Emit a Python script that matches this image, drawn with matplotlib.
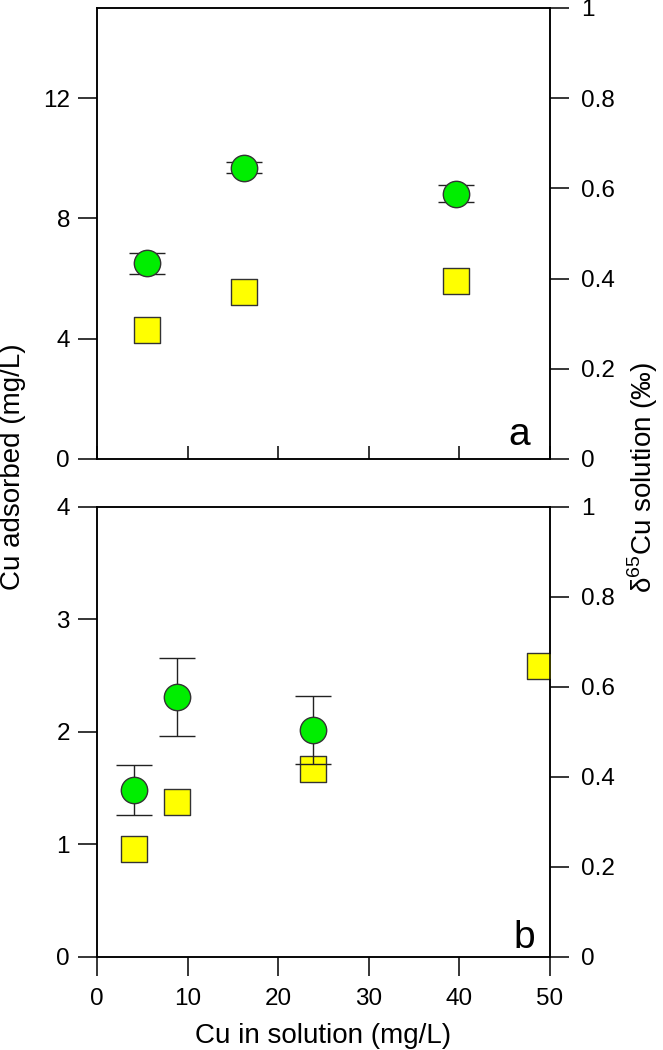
import matplotlib
matplotlib.use("Agg")
import matplotlib.pyplot as plt

plt.rcParams['font.family'] = ['Liberation Sans', 'DejaVu Sans']
plt.rcParams['mathtext.fontset'] = 'custom'
plt.rcParams['mathtext.rm'] = 'Liberation Sans'

# panel a
a_sq_x = [5.55, 16.2, 39.6]
a_sq_y = [4.29, 5.56, 5.93]
a_ci_x = [5.55, 16.2, 39.6]
a_ci_y = [0.434, 0.646, 0.588]
a_ci_err = [0.023, 0.012, 0.019]

# panel b
b_sq_x = [4.08, 8.78, 23.84, 48.9]
b_sq_y = [0.957, 1.38, 1.671, 2.587]
b_ci_x = [4.08, 8.8, 23.84]
b_ci_y = [0.371, 0.578, 0.504]
b_ci_err = [0.056, 0.087, 0.076]

x_ticks = [0, 10, 20, 30, 40, 50]
right_ticks = [0, 0.2, 0.4, 0.6, 0.8, 1]
right_labels = ["0", "0.2", "0.4", "0.6", "0.8", "1"]

FS = 17.5
LFS = 20
LW = 1.1

fig = plt.figure(figsize=(6.63, 10.5), dpi=100)
ax_a = fig.add_axes([0.1463, 0.5629, 0.6833, 0.4295])
ax_b = fig.add_axes([0.1463, 0.0886, 0.6833, 0.4286])


def style(ax, tw, xin):
    for s in ax.spines.values():
        s.set_linewidth(LW)
    ax.tick_params(axis='y', direction='out', length=13.5, width=LW, labelsize=FS, pad=6)
    if xin:
        ax.tick_params(axis='x', direction='in', length=9.5, width=LW, labelbottom=False)
    else:
        ax.tick_params(axis='x', direction='out', length=13.5, width=LW, labelsize=FS, pad=9)
    tw.tick_params(axis='y', direction='out', length=13.5, width=LW, labelsize=FS, pad=9)
    for s in tw.spines.values():
        s.set_linewidth(LW)


def draw(ax, sx, sy, cx, cy, ce, ylim, yticks, label, lx, ly, xin):
    tw = ax.twinx()
    ax.scatter(sx, sy, marker='s', s=370, c='#ffff00', edgecolors='#333333', linewidths=1, zorder=3)
    tw.errorbar(cx, cy, yerr=ce, fmt='o', ms=19, mfc='#00ee00', mec='#333333', mew=1,
                ecolor='#222222', elinewidth=1, capsize=13, capthick=1, zorder=3)
    ax.set_xlim(0, 50)
    ax.set_xticks(x_ticks)
    ax.set_ylim(*ylim)
    ax.set_yticks(yticks)
    tw.set_ylim(0, 1)
    tw.set_yticks(right_ticks)
    tw.set_yticklabels(right_labels)
    style(ax, tw, xin)
    ax.text(lx, ly, label, transform=ax.transAxes, ha='right', va='baseline', fontsize=28)
    return tw


draw(ax_a, a_sq_x, a_sq_y, a_ci_x, a_ci_y, a_ci_err, (0, 15), [0, 4, 8, 12], "a", 0.956, 0.031, True)
draw(ax_b, b_sq_x, b_sq_y, b_ci_x, b_ci_y, b_ci_err, (0, 4), [0, 1, 2, 3, 4], "b", 0.967, 0.02, False)
ax_b.set_xlabel("Cu in solution (mg/L)", fontsize=LFS, labelpad=9)

fig.text(0.019, 0.556, "Cu adsorbed (mg/L)", rotation=90, ha='center', va='center', fontsize=LFS)
fig.text(0.969, 0.545, "δ$^{\\mathregular{65}}$Cu solution (‰)", rotation=90,
         ha='center', va='center', fontsize=LFS)

fig.savefig("out.png", dpi=100)
